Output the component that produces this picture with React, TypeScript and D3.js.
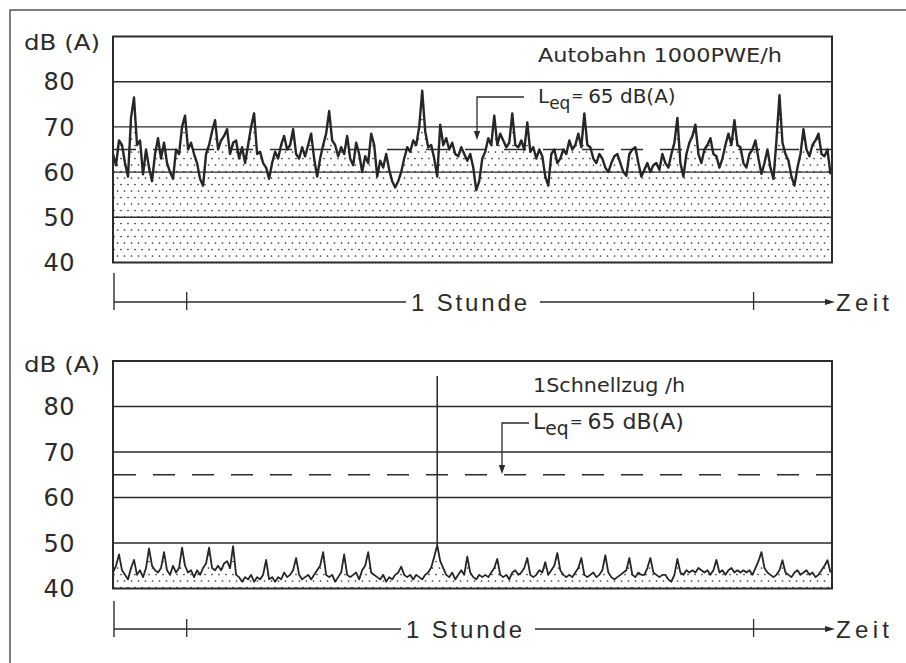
import React from "react";
import * as d3 from "d3";

// ---------- data ----------
const yTicks = [40, 50, 60, 70, 80];
const yDomain = [40, 90];
const leqLevel = 65;
const hourTicks = [0, 60];
const timeDomain = [-7.8, 68.3];
const unitLabel = "dB (A)";
const timeLabel = "1 Stunde";
const timeEndLabel = "Zeit";
const panelTitles = ["Autobahn  1000PWE/h", "1Schnellzug /h"];

// Autobahn, 1000 PWE/h (sampled trace, dB(A))
const autobahnLevels = [
  64, 61.5, 67, 66, 62, 59, 72, 76.5, 66, 67, 59.5, 65, 61, 58, 64, 67.5, 63, 66.5, 62, 60,
  58.5, 65, 64, 70, 72.5, 65, 66.5, 64, 62, 58.5, 57, 64, 66, 69, 71.5, 65, 67, 68, 69.5, 64,
  66.5, 67, 63, 65.5, 62, 66, 70, 73, 64, 64.5, 62, 61, 58.5, 62, 64.5, 63, 66, 68, 65, 66,
  69.5, 64, 63, 65.5, 63.5, 66, 68.5, 63, 59, 63, 66, 68.5, 73.5, 67, 66, 63.5, 65.5, 64, 68, 63,
  61.5, 66.5, 64, 60, 63.5, 62, 68.5, 66, 59, 62.5, 61, 64, 60.5, 58, 56.6, 58, 60, 63, 65.5, 64.5,
  67, 66, 70, 78, 69, 65.5, 66, 63, 59, 70.5, 66, 67.5, 65, 66.5, 64, 63.5, 65.5, 64, 62.5, 64,
  61, 56, 58, 63, 64.5, 67.5, 66, 72.5, 66, 68.5, 67, 65.5, 66.5, 73, 66, 65.5, 67, 65, 71, 64.5,
  65.5, 63, 65, 63.5, 59, 57, 64, 65, 62, 63, 65, 64, 67, 65, 66, 68.5, 65.5, 73, 66, 65.5,
  63, 62, 64, 63, 61, 60, 62, 63.5, 64, 62, 60, 59.2, 64, 65, 65.5, 62, 59, 60.5, 62, 60,
  61.5, 62, 60.5, 64, 62, 61, 64, 66.5, 72, 62, 59, 64, 66.5, 68, 70.5, 64, 62, 65, 66, 67.5,
  64, 63.5, 61, 63, 66, 68.5, 66, 71.5, 66, 65.5, 62, 61, 64, 65, 67, 63, 59.6, 62, 65, 61,
  58.5, 67, 77, 66.5, 64, 62.5, 59, 57, 61, 64, 69.5, 65, 63.5, 66, 67, 68.5, 64, 63.5, 65, 59.5,
];

// 1 Schnellzug/h (sampled trace, dB(A)); the train pass-by peak is listed separately
const schnellzugLevels = [
  43.5, 45, 47.5, 44, 43, 42, 44.5, 46.3, 43, 44, 42.5, 44.5, 48.8, 45, 44, 43.5, 44.5, 48, 44, 43,
  45, 43.5, 44.5, 49, 45, 43.5, 44, 42.5, 44, 43, 44.5, 45.5, 49, 44.5, 44, 45, 44, 45.5, 46, 44.5,
  49.3, 43, 42.5, 41.5, 42.5, 42, 43, 41.5, 42.5, 42, 43, 46.3, 42, 42.5, 41.5, 42.5, 42, 43.5, 42.5, 43,
  44, 46.7, 43, 42, 42.5, 43, 42, 43, 44, 45, 48, 43, 42.5, 43, 41.5, 42.5, 43.5, 47.5, 43, 42.5,
  43, 43.5, 42, 44, 45, 48, 43.5, 43, 42.5, 42, 43, 41.5, 42.5, 42, 43, 43.5, 44.8, 43, 42.5, 43,
  42, 43, 42.5, 42, 43, 43.5, 44.6, 47, 49.5, 46, 44.5, 43, 42.5, 43.5, 42, 43, 44, 43, 47, 43.5,
  42.5, 42, 43, 42.5, 43, 42.5, 43.5, 44.5, 46.5, 43, 42.5, 43, 42, 43.5, 44, 43, 43.5, 44.5, 46.7, 43,
  42.5, 43, 44, 43.5, 45.8, 43, 44, 45, 47.8, 44, 43, 42.5, 43, 42.5, 43.5, 44.5, 46.7, 43, 42.5, 43,
  43.5, 42.5, 43, 44, 47.3, 43.5, 42.5, 42, 42.5, 43, 43.5, 44, 46.7, 43, 42.5, 43.5, 43, 43, 44.5, 46.7,
  43.5, 43, 42.5, 43, 43, 42, 41.5, 43, 46.5, 43.5, 43, 44, 43.5, 44, 43.5, 44.5, 44, 43.5, 44, 43,
  44, 46.3, 43.5, 44, 43, 44, 44.5, 43.5, 44, 43.5, 44, 43.5, 44, 43, 44.5, 46, 48, 44.5, 43.5, 43,
  42.5, 43, 44, 46.2, 43.5, 43, 42.5, 43.5, 44, 43, 43.5, 44, 43, 43.5, 42.5, 43, 44, 45, 46.2, 43.5,
];
const trainPeakIndex = 108;
const trainPeakLevel = 86.7;

// ---------- layout ----------
const BOX_X0 = 113;
const BOX_X1 = 832;
const INK = "#2b2b2b";
const NUM_FONT = "'DejaVu Sans', sans-serif";
const AX_FONT = "'Liberation Sans', Arial, sans-serif";

type PanelProps = {
  id: string;
  data: number[];
  peak?: { index: number; level: number };
  yTop: number;
  yBottom: number;
  title: string;
  titleX: number;
  titleY: number;
  titleLen: number;
  unitY: number;
  leqTextX: number;
  leqTextY: number;
  leqFont: number;
  leqTextLen: number;
  leqBracketX: number;
  leqBracketLen: number;
  leqBracketY: number;
  leqArrowTip: number;
  axisY: number;
  axisTopTick: number;
  timeTextX: number;
  traceWidth: number;
};

function Panel(p: PanelProps) {
  const y = d3.scaleLinear().domain(yDomain).range([p.yBottom, p.yTop]);
  const x = d3.scaleLinear().domain([0, p.data.length - 1]).range([BOX_X0, BOX_X1 - 1.5]);
  const xt = d3.scaleLinear().domain(timeDomain).range([BOX_X0, BOX_X1]);
  const line = d3
    .line<number>()
    .x((_, i) => x(i))
    .y((d) => y(d));
  const area = d3
    .area<number>()
    .x((_, i) => x(i))
    .y0(y(yDomain[0]))
    .y1((d) => y(d));
  const yLeq = y(leqLevel);
  const axisStart = BOX_X0 + 1;
  const axisEnd = 835;
  return (
    <g>
      <clipPath id={`clip-${p.id}`}>
        <rect x={BOX_X0} y={p.yTop} width={BOX_X1 - BOX_X0} height={p.yBottom - p.yTop} />
      </clipPath>
      {/* dotted fill below trace */}
      <path d={area(p.data) || ""} fill="url(#dots)" clipPath={`url(#clip-${p.id})`} />
      {/* grid lines */}
      {yTicks.slice(1).map((t) => (
        <line key={t} x1={BOX_X0} x2={BOX_X1} y1={y(t)} y2={y(t)} stroke={INK} strokeWidth={1.4} />
      ))}
      {/* Leq dashed */}
      <line
        x1={BOX_X0 + 1}
        x2={BOX_X1}
        y1={yLeq}
        y2={yLeq}
        stroke={INK}
        strokeWidth={1.4}
        strokeDasharray="22 17"
      />
      {/* trace */}
      <path
        d={line(p.data) || ""}
        fill="none"
        stroke="#262626"
        strokeWidth={p.traceWidth}
        strokeLinejoin="round"
        clipPath={`url(#clip-${p.id})`}
      />
      {p.peak && (
        <line
          x1={x(p.peak.index)}
          x2={x(p.peak.index)}
          y1={y(p.data[p.peak.index])}
          y2={y(p.peak.level)}
          stroke="#262626"
          strokeWidth={1.5}
        />
      )}
      {/* box */}
      <rect
        x={BOX_X0}
        y={p.yTop}
        width={BOX_X1 - BOX_X0}
        height={p.yBottom - p.yTop}
        fill="none"
        stroke={INK}
        strokeWidth={2}
      />
      {/* unit label & tick labels */}
      <text x={24} y={p.unitY} fontFamily={NUM_FONT} fontSize={22} fill={INK} textLength={76} lengthAdjust="spacingAndGlyphs">
        {unitLabel}
      </text>
      {yTicks.map((t) => (
        <text
          key={t}
          x={75}
          y={y(t)}
          dy="0.36em"
          textAnchor="end"
          fontFamily={NUM_FONT}
          fontSize={24}
          fill={INK}
          letterSpacing={0.5}
        >
          {t}
        </text>
      ))}
      {/* title */}
      <text x={p.titleX} y={p.titleY} fontFamily={NUM_FONT} fontSize={20} fill={INK} textLength={p.titleLen} lengthAdjust="spacingAndGlyphs">
        {p.title}
      </text>
      {/* Leq annotation */}
      <path
        d={`M${p.leqBracketX + p.leqBracketLen},${p.leqBracketY} H${p.leqBracketX} V${p.leqArrowTip - 7}`}
        fill="none"
        stroke={INK}
        strokeWidth={1.3}
      />
      <path
        d={`M${p.leqBracketX - 3.2},${p.leqArrowTip - 9} L${p.leqBracketX + 3.2},${p.leqArrowTip - 9} L${p.leqBracketX},${p.leqArrowTip} Z`}
        fill={INK}
      />
      <text x={p.leqTextX} y={p.leqTextY} fontFamily={NUM_FONT} fontSize={p.leqFont} fill={INK}>
        L
        <tspan fontSize={p.leqFont * 0.85} dy={6}>eq</tspan>
        <tspan dy={-8} fontSize={p.leqFont * 0.7} dx={1}>=</tspan>
        <tspan dy={2} dx={5}>65 dB(A)</tspan>
      </text>
      {/* time axis */}
      <line x1={axisStart} x2={axisStart} y1={p.axisTopTick} y2={p.axisY + 8} stroke={INK} strokeWidth={1.4} />
      {hourTicks.map((h) => (
        <line
          key={h}
          x1={xt(h)}
          x2={xt(h)}
          y1={p.axisY - 10}
          y2={p.axisY + 8}
          stroke={INK}
          strokeWidth={1.3}
        />
      ))}
      <line x1={axisStart} x2={p.timeTextX - 5} y1={p.axisY} y2={p.axisY} stroke={INK} strokeWidth={1.3} />
      <text
        x={p.timeTextX}
        y={p.axisY + 9}
        fontFamily={AX_FONT}
        fontSize={24}
        fill={INK}
        textLength={116}
        lengthAdjust="spacing"
      >
        {timeLabel}
      </text>
      <line x1={p.timeTextX + 129} x2={axisEnd - 8} y1={p.axisY} y2={p.axisY} stroke={INK} strokeWidth={1.3} />
      <path d={`M${axisEnd - 10},${p.axisY - 3} L${axisEnd},${p.axisY} L${axisEnd - 10},${p.axisY + 3} Z`} fill={INK} />
      <text
        x={axisEnd + 1}
        y={p.axisY + 9}
        fontFamily={AX_FONT}
        fontSize={24}
        fill={INK}
        textLength={53}
        lengthAdjust="spacing"
      >
        {timeEndLabel}
      </text>
    </g>
  );
}

export default function App() {
  const W = 906;
  const H = 663;
  return (
    <svg
      width={W}
      height={H}
      viewBox={`0 0 ${W} ${H}`}
      style={{ position: "absolute", left: 0, top: 0, background: "#fff" }}
    >
      <defs>
        <pattern id="dots" patternUnits="userSpaceOnUse" width={7} height={13}>
          <circle cx={2} cy={2.5} r={0.85} fill="#333" />
          <circle cx={5.5} cy={9} r={0.85} fill="#333" />
        </pattern>
      </defs>
      <rect x={0} y={0} width={W} height={H} fill="#fff" />
      {/* outer frame */}
      <path d={`M10,${H} V10 H${W}`} fill="none" stroke="#555" strokeWidth={1.5} />
      <Panel
        id="a"
        data={autobahnLevels}
        yTop={36.5}
        yBottom={262.5}
        title={panelTitles[0]}
        titleX={538}
        titleY={62}
        titleLen={244}
        unitY={50}
        leqTextX={538}
        leqTextY={103}
        leqFont={20}
        leqTextLen={144}
        leqBracketX={477}
        leqBracketLen={47}
        leqBracketY={97}
        leqArrowTip={140}
        axisY={302}
        axisTopTick={273}
        timeTextX={411}
        traceWidth={2.4}
      />
      <Panel
        id="b"
        data={schnellzugLevels}
        peak={{ index: trainPeakIndex, level: trainPeakLevel }}
        yTop={361}
        yBottom={588.5}
        title={panelTitles[1]}
        titleX={533}
        titleY={392}
        titleLen={152}
        unitY={372}
        leqTextX={533}
        leqTextY={429}
        leqFont={22}
        leqTextLen={150}
        leqBracketX={502}
        leqBracketLen={27}
        leqBracketY={423}
        leqArrowTip={474}
        axisY={629}
        axisTopTick={601}
        timeTextX={406}
        traceWidth={1.8}
      />
    </svg>
  );
}
